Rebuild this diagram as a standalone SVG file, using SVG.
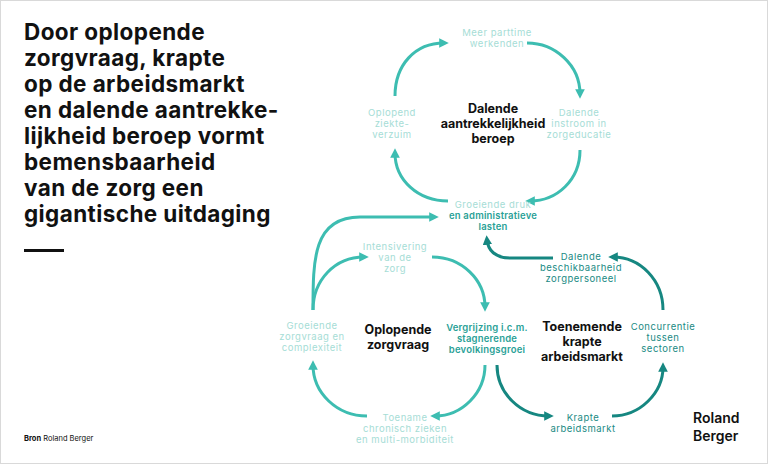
<svg xmlns="http://www.w3.org/2000/svg" width="768" height="464" viewBox="0 0 768 464">
<style>
text{font-family:Inter,"Noto Sans",sans-serif;text-anchor:middle}
.t{font-size:9.5px;fill:#a6ddd6;letter-spacing:0.5px}
.m{font-size:9.5px;fill:#2aa197;font-weight:600;letter-spacing:0.2px}
.d{font-size:9.5px;fill:#1a8a84;letter-spacing:0.5px}
.c{font-size:12.5px;font-weight:700;fill:#111}
.title{font-size:22.5px;font-weight:700;fill:#111;text-anchor:start;letter-spacing:0.4px}
.a{fill:none;stroke:#3dbdb1;stroke-width:3}
.b{fill:none;stroke:#168781;stroke-width:3}
</style>
<defs>
<marker id="ha" viewBox="0 0 10 10" refX="5" refY="5" markerWidth="3.2" markerHeight="3.2" orient="auto" markerUnits="strokeWidth"><path d="M0,0L10,5L0,10z" fill="#3dbdb1"/></marker>
<marker id="hb" viewBox="0 0 10 10" refX="5" refY="5" markerWidth="3.2" markerHeight="3.2" orient="auto" markerUnits="strokeWidth"><path d="M0,0L10,5L0,10z" fill="#168781"/></marker>
</defs>
<rect x="0.5" y="0.5" width="767" height="463" fill="#fff" stroke="#d9d9d9"/>
<g id="title">
<text class="title" x="24" y="40">Door oplopende</text>
<text class="title" x="24" y="66">zorgvraag, krapte</text>
<text class="title" x="24" y="92">op de arbeidsmarkt</text>
<text class="title" x="24" y="118">en dalende aantrekke-</text>
<text class="title" x="24" y="144">lijkheid beroep vormt</text>
<text class="title" x="24" y="170">bemensbaarheid</text>
<text class="title" x="24" y="196">van de zorg een</text>
<text class="title" x="24" y="222">gigantische uitdaging</text>
<rect x="24" y="249" width="40" height="3" fill="#111"/>
</g>
<g id="connectors">
<path class="a" d="M395,96 C395,65 415,43 444,43" marker-end="url(#ha)"/>
<path class="a" d="M527,43 C555,43 580,65 580,94" marker-end="url(#ha)"/>
<path class="a" d="M580,150 C580,180 557,201 530,201" marker-end="url(#ha)"/>
<path class="a" d="M448,201 C418,201 395,180 395,153" marker-end="url(#ha)"/>
<path class="a" d="M313,310 C313,260 313,217 360,217 L434,217" marker-end="url(#ha)"/>
<path class="a" d="M313,310 C313,280 335,257 364,257" marker-end="url(#ha)"/>
<path class="a" d="M432,257 C462,257 485,280 485,307" marker-end="url(#ha)"/>
<path class="a" d="M485,365 C485,393 462,416 435,416" marker-end="url(#ha)"/>
<path class="a" d="M367,416 C337,416 313,393 313,365" marker-end="url(#ha)"/>
<path class="b" d="M497,365 C497,393 520,416 549,416" marker-end="url(#hb)"/>
<path class="b" d="M612,416 C640,416 663,393 663,367" marker-end="url(#hb)"/>
<path class="b" d="M663,310 C663,280 640,257 613,257" marker-end="url(#hb)"/>
<path class="b" d="M553,258 L510,258 C495,258 488,250 487,240" marker-end="url(#hb)"/>
</g>
<g id="n-meer"><text class="t" x="497" y="36">Meer parttime</text><text class="t" x="497" y="47">werkenden</text></g>
<g id="n-instroom"><text class="t" x="579" y="116">Dalende</text><text class="t" x="579" y="127">instroom in</text><text class="t" x="579" y="138">zorgeducatie</text></g>
<g id="n-ziekte"><text class="t" x="392" y="116">Oplopend</text><text class="t" x="392" y="127">ziekte-</text><text class="t" x="392" y="138">verzuim</text></g>
<g id="n-dalende"><text class="c" x="493" y="113">Dalende</text><text class="c" x="493" y="128">aantrekkelijkheid</text><text class="c" x="493" y="143">beroep</text></g>
<g id="n-druk"><text class="t" x="493" y="208">Groeiende druk</text><text class="m" x="493" y="219">en administratieve</text><text class="m" x="493" y="230">lasten</text></g>
<g id="n-intens"><text class="t" x="395" y="250">Intensivering</text><text class="t" x="395" y="261">van de</text><text class="t" x="395" y="272">zorg</text></g>
<g id="n-groeiend"><text class="t" x="312" y="329">Groeiende</text><text class="t" x="312" y="340">zorgvraag en</text><text class="t" x="312" y="351">complexiteit</text></g>
<g id="n-oplopende"><text class="c" x="398" y="334">Oplopende</text><text class="c" x="398" y="349">zorgvraag</text></g>
<g id="n-vergrijzing"><text class="m" x="487" y="331">Vergrijzing i.c.m.</text><text class="m" x="487" y="342">stagnerende</text><text class="m" x="487" y="353">bevolkingsgroei</text></g>
<g id="n-toename"><text class="t" x="405" y="421">Toename</text><text class="t" x="405" y="432">chronisch zieken</text><text class="t" x="405" y="443">en multi-morbiditeit</text></g>
<g id="n-toenemende"><text class="c" x="582" y="331">Toenemende</text><text class="c" x="582" y="346">krapte</text><text class="c" x="582" y="361">arbeidsmarkt</text></g>
<g id="n-krapte"><text class="d" x="583" y="421">Krapte</text><text class="d" x="583" y="432">arbeidsmarkt</text></g>
<g id="n-concurrentie"><text class="d" x="663" y="330">Concurrentie</text><text class="d" x="663" y="341">tussen</text><text class="d" x="663" y="352">sectoren</text></g>
<g id="n-beschik"><text class="d" x="581" y="260">Dalende</text><text class="d" x="581" y="271">beschikbaarheid</text><text class="d" x="581" y="282">zorgpersoneel</text></g>
<g id="footer">
<text x="24" y="441" style="font-size:7.5px;text-anchor:start;fill:#111"><tspan font-weight="700">Bron</tspan> Roland Berger</text>
<text x="693" y="423" style="font-size:14px;font-weight:600;text-anchor:start;fill:#111">Roland</text>
<text x="693" y="441" style="font-size:14px;font-weight:600;text-anchor:start;fill:#111">Berger</text>
</g>
</svg>
